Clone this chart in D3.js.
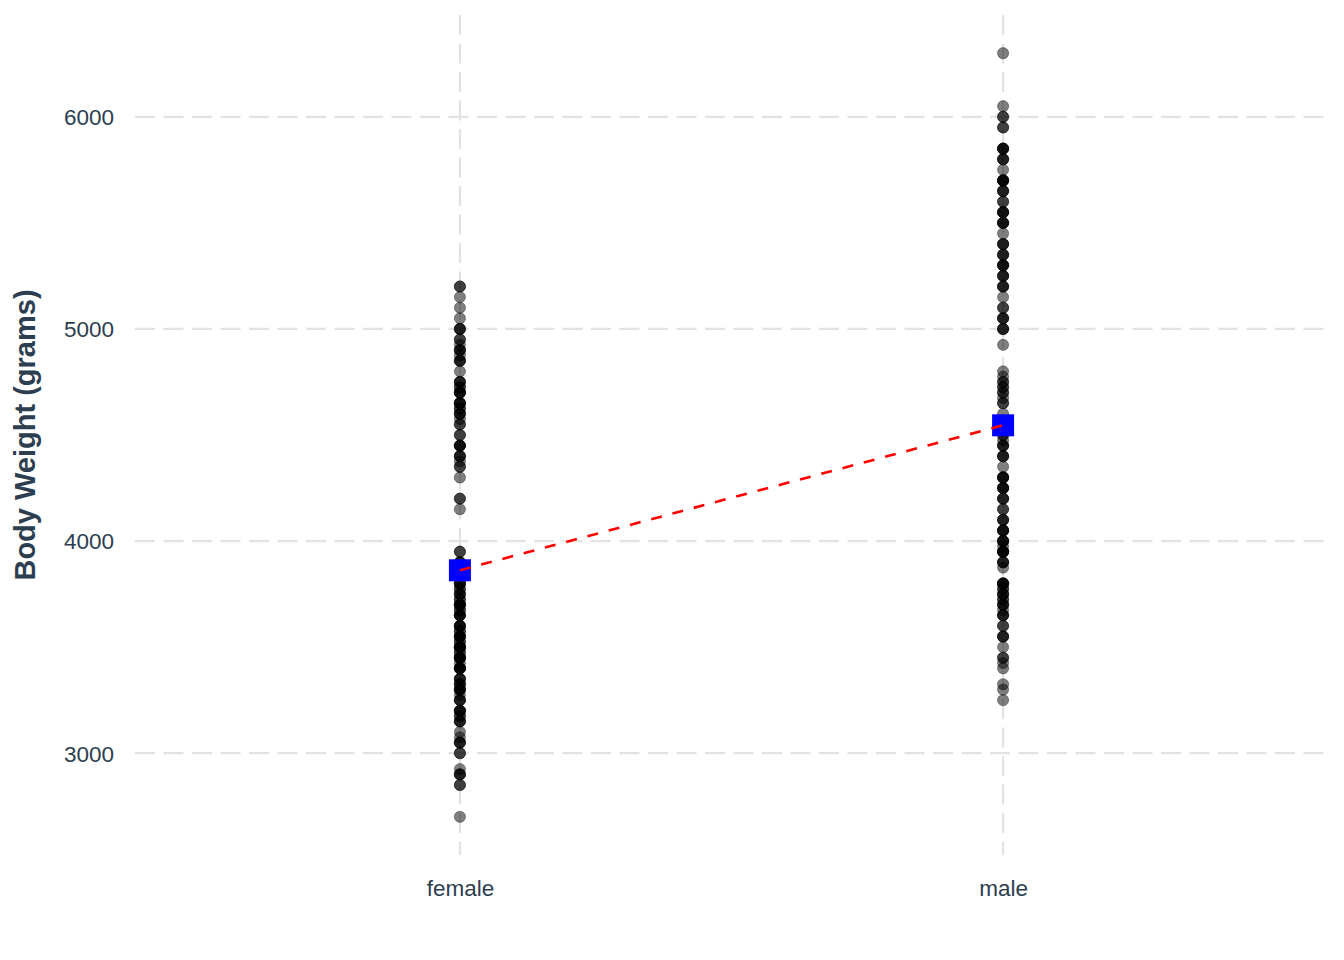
<!DOCTYPE html>
<html>
<head>
<meta charset="utf-8">
<script src="https://cdn.jsdelivr.net/npm/d3@7"></script>
<style>
  html, body { margin: 0; padding: 0; background: #fff; }
  svg { display: block; font-family: "Liberation Sans", Arial, sans-serif; }
</style>
</head>
<body>
<svg id="chart" width="1344" height="960"></svg>
<script>
const categories = ["female", "male"];
const yTicks = [3000, 4000, 5000, 6000];
const yTitle = "Body Weight (grams)";

const femaleMass = [
  2700, 2850, 2850, 2900, 2900, 2900, 2925, 3000, 3000, 3050, 3050, 3050, 3075, 3100,
  3150, 3150, 3150, 3175, 3175, 3200, 3200, 3200, 3200, 3250, 3250, 3250, 3275,
  3300, 3300, 3300, 3300, 3325, 3325, 3325, 3350, 3350, 3350,
  3400, 3400, 3400, 3400, 3400, 3425, 3450, 3450, 3450, 3450, 3450, 3475, 3475,
  3500, 3500, 3500, 3500, 3500, 3525, 3525, 3550, 3550, 3550, 3550, 3575, 3575,
  3600, 3600, 3600, 3600, 3650, 3650, 3650, 3650, 3675, 3675,
  3700, 3700, 3700, 3700, 3700, 3725, 3725, 3750, 3750, 3750, 3775, 3775,
  3800, 3800, 3800, 3800, 3850, 3850, 3900, 3900, 3900, 3950, 3950,
  4150, 4200, 4200, 4300, 4350, 4350, 4375, 4400, 4400, 4400,
  4450, 4450, 4450, 4450, 4500, 4500, 4550, 4550, 4575, 4600, 4600, 4600, 4625, 4625,
  4650, 4650, 4650, 4650, 4700, 4700, 4700, 4700, 4725, 4725, 4750, 4750, 4750,
  4800, 4850, 4850, 4850, 4875, 4900, 4900, 4900, 4925, 4950, 4950,
  5000, 5000, 5000, 5050, 5100, 5150, 5200, 5200
];

const maleMass = [
  3250, 3300, 3325, 3400, 3425, 3450, 3450, 3500, 3550, 3550, 3550, 3600, 3600,
  3650, 3650, 3650, 3675, 3700, 3700, 3700, 3725, 3725, 3750, 3750, 3750, 3775, 3775,
  3800, 3800, 3800, 3800, 3800, 3875, 3900, 3900, 3900, 3950, 3950, 3950, 3950, 3950, 3975,
  4000, 4000, 4000, 4000, 4050, 4050, 4050, 4050, 4100, 4100, 4100, 4150, 4150,
  4200, 4200, 4200, 4250, 4250, 4250, 4250, 4300, 4300, 4300, 4300, 4350,
  4400, 4400, 4400, 4450, 4450, 4450, 4475, 4500, 4500, 4550, 4550, 4600,
  4650, 4650, 4675, 4700, 4700, 4725, 4725, 4750, 4750, 4775, 4800, 4925,
  5000, 5000, 5000, 5050, 5050, 5050, 5100, 5100, 5150, 5200, 5200, 5200,
  5250, 5250, 5250, 5300, 5300, 5300, 5300, 5350, 5350, 5350, 5400, 5400, 5400, 5450,
  5500, 5500, 5500, 5500, 5550, 5550, 5550, 5550, 5600, 5600, 5650, 5650, 5650,
  5700, 5700, 5700, 5700, 5700, 5750, 5800, 5800, 5800, 5850, 5850, 5850, 5850,
  5950, 5950, 6000, 6000, 6050, 6300
];

const groupMeans = [3862.27, 4545.68];

const svg = d3.select("#chart");
const plot = { left: 134, right: 1329, top: 15, bottom: 855 };

const x = d3.scalePoint().domain(categories).range([plot.left, plot.right]).padding(0.6);
const y = d3.scaleLinear().domain([2520, 6480]).range([plot.bottom, plot.top]);

const gridColor = "#e2e2e2";
const textColor = "#2c3e50";

// horizontal gridlines
svg.append("g").selectAll("line").data(yTicks).join("line")
  .attr("x1", plot.left + 1).attr("x2", plot.right)
  .attr("y1", d => y(d)).attr("y2", d => y(d))
  .attr("stroke", gridColor).attr("stroke-width", 2.2)
  .attr("stroke-dasharray", "20,8.5");

// vertical gridlines
svg.append("g").selectAll("line").data(categories).join("line")
  .attr("x1", d => x(d)).attr("x2", d => x(d))
  .attr("y1", plot.top).attr("y2", plot.bottom)
  .attr("stroke", gridColor).attr("stroke-width", 2.2)
  .attr("stroke-dasharray", "20,8.5");

// y axis
const yAxis = d3.axisLeft(y).tickValues(yTicks).tickSize(0).tickPadding(0).tickFormat(d3.format("d"));
const gy = svg.append("g").attr("transform", `translate(114,0)`).call(yAxis);
gy.select(".domain").remove();
gy.selectAll("text").attr("fill", textColor).attr("font-size", 22.5)
  .attr("font-family", "'Liberation Sans', Arial, sans-serif").attr("dy", "0.35em");

// x axis
const xAxis = d3.axisBottom(x).tickSize(0).tickPadding(0);
const gx = svg.append("g").attr("transform", `translate(0,${plot.bottom + 25})`).call(xAxis);
gx.select(".domain").remove();
gx.selectAll("text").attr("fill", textColor).attr("font-size", 22.5)
  .attr("font-family", "'Liberation Sans', Arial, sans-serif").attr("dy", "0.71em");

// y title
svg.append("text")
  .attr("transform", `translate(35,${(plot.top + plot.bottom) / 2}) rotate(-90)`)
  .attr("text-anchor", "middle")
  .attr("fill", textColor)
  .attr("font-size", 29)
  .attr("font-weight", "bold")
  .text(yTitle);

// points
const pts = [
  ...femaleMass.map(v => ({ cat: "female", v })),
  ...maleMass.map(v => ({ cat: "male", v }))
];
svg.append("g").selectAll("circle").data(pts).join("circle")
  .attr("cx", d => x(d.cat)).attr("cy", d => y(d.v))
  .attr("r", 5.6)
  .attr("fill", "#000").attr("fill-opacity", 0.5)
  .attr("stroke", "#000").attr("stroke-opacity", 0.35).attr("stroke-width", 1);

// mean squares
const sq = 22;
svg.append("g").selectAll("rect").data(categories).join("rect")
  .attr("x", (d) => x(d) - sq / 2)
  .attr("y", (d, i) => y(groupMeans[i]) - sq / 2)
  .attr("width", sq).attr("height", sq)
  .attr("fill", "#0000ff");

// dashed connecting line
const line = d3.line().x((d, i) => x(categories[i])).y(d => y(d));
svg.append("path").datum(groupMeans)
  .attr("d", line)
  .attr("fill", "none").attr("stroke", "#ff0000")
  .attr("stroke-width", 2.6).attr("stroke-dasharray", "11,11");
</script>
</body>
</html>
